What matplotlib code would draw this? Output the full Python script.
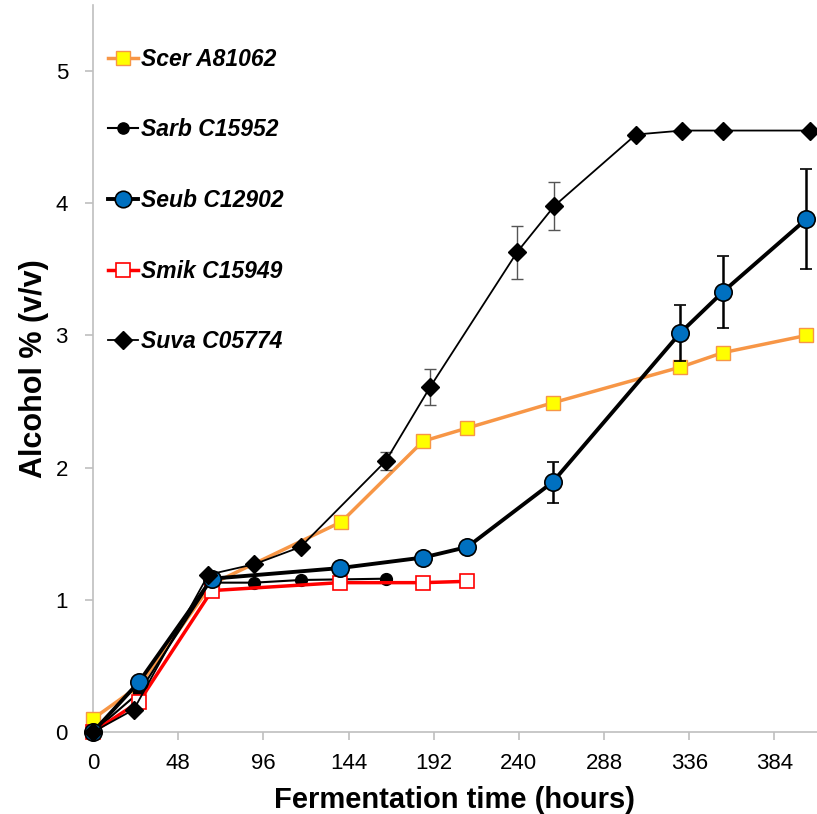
import numpy as np
import matplotlib
matplotlib.use('Agg')
import matplotlib.pyplot as plt
from matplotlib.lines import Line2D

plt.rcParams['font.family'] = ['Liberation Sans', 'DejaVu Sans']

# Scer A81062
scer_t = [0, 26, 67, 140, 186, 211, 259, 331, 355, 402]
scer_y = [0.10, 0.35, 1.12, 1.59, 2.20, 2.30, 2.49, 2.76, 2.87, 3.00]

# Sarb C15952
sarb_t = [0, 26, 66, 91, 117, 165]
sarb_y = [0.0, 0.30, 1.13, 1.13, 1.15, 1.16]

# Seub C12902
seub_t = [0, 26, 67, 139, 186, 211, 259, 331, 355, 402]
seub_y = [0.0, 0.38, 1.16, 1.24, 1.32, 1.40, 1.89, 3.02, 3.33, 3.88]
seub_err = [0, 0, 0, 0, 0, 0, 0.155, 0.21, 0.27, 0.38]

# Smik C15949
smik_t = [0, 26, 67, 139, 186, 211]
smik_y = [0.0, 0.23, 1.07, 1.13, 1.13, 1.14]

# Suva C05774
suva_t = [0, 23, 65, 91, 117, 165, 190, 239, 260, 306, 332, 355, 404]
suva_y = [0.0, 0.17, 1.19, 1.27, 1.40, 2.05, 2.61, 3.63, 3.98, 4.52, 4.55, 4.55, 4.55]
suva_err = [0, 0, 0, 0, 0, 0.07, 0.135, 0.20, 0.18, 0, 0, 0, 0]

names = ['Scer A81062', 'Sarb C15952', 'Seub C12902', 'Smik C15949', 'Suva C05774']

fig = plt.figure(figsize=(8.17, 8.14), dpi=100)
ax = fig.add_axes([0.1138, 0.1007, 0.8862, 0.8932])

styles = [
    dict(color='#F79646', lw=2.5, marker='s', ms=10, mfc='#FFFF00', mec='#F79646', mew=1),
    dict(color='black', lw=1.5, marker='o', ms=8.5, mfc='black', mec='black'),
    dict(color='black', lw=2.8, marker='o', ms=12.5, mfc='#0070C0', mec='black', mew=1.2),
    dict(color='#FF0000', lw=2.5, marker='s', ms=10, mfc='white', mec='#FF0000', mew=1.2),
    dict(color='black', lw=1.3, marker='D', ms=9.5, mfc='black', mec='black'),
]

ax.plot(scer_t, scer_y, clip_on=False, zorder=3, **styles[0])
ax.plot(sarb_t, sarb_y, clip_on=False, zorder=3, **styles[1])
ax.errorbar(seub_t, seub_y, yerr=seub_err, ecolor='black', elinewidth=1.8,
            capsize=4, capthick=1.8, clip_on=False, zorder=4, **styles[2])
ax.plot(smik_t, smik_y, clip_on=False, zorder=4, **styles[3])
ax.errorbar(suva_t, suva_y, yerr=suva_err, ecolor='#555555', elinewidth=1,
            capsize=4, capthick=1, clip_on=False, zorder=5, **styles[4])

ax.set_xlim(0, 408)
ax.set_ylim(0, 5.5)
ax.set_xticks(np.arange(0, 385, 48))
ax.set_yticks([0, 1, 2, 3, 4, 5])

for s in ['top', 'right']:
    ax.spines[s].set_visible(False)
for s in ['left', 'bottom']:
    ax.spines[s].set_color('#BFBFBF')
    ax.spines[s].set_linewidth(1.2)
ax.tick_params(direction='out', length=6, width=1.2, color='#BFBFBF',
               labelsize=16, labelcolor='black')
ax.tick_params(axis='x', pad=9)
ax.tick_params(axis='y', pad=12)

ax.set_xlabel('Fermentation time (hours)', fontsize=21, fontweight='bold', labelpad=9)
ax.set_ylabel('Alcohol % (v/v)', fontsize=22, fontweight='bold', labelpad=5)

handles = []
for st in styles:
    st2 = dict(st)
    st2['ms'] = st['ms'] * 0.95
    handles.append(Line2D([], [], **st2))
leg = ax.legend(handles, names, loc='upper left', bbox_to_anchor=(0.002, 0.960),
                frameon=False, handlelength=1.3, handletextpad=0.15, borderaxespad=0.2,
                labelspacing=2.08, prop={'size': 16.5, 'weight': 'bold', 'style': 'italic'})

plt.savefig('out.png', dpi=100)
